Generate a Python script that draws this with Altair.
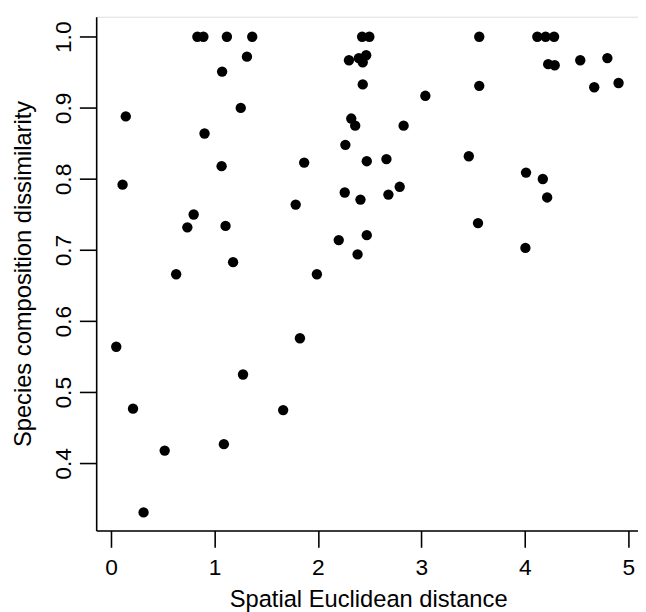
import altair as alt
import pandas as pd

distance = [0.051, 0.112, 0.143, 0.213, 0.315, 0.519, 0.63, 0.738, 0.799, 0.835,
            0.893, 0.904, 1.069, 1.074, 1.091, 1.107, 1.12, 1.18, 1.254, 1.276,
            1.314, 1.365, 1.664, 1.785, 1.826, 1.867, 1.99, 2.201, 2.259, 2.265,
            2.30, 2.322, 2.36, 2.383, 2.395, 2.411, 2.427, 2.433, 2.433, 2.466,
            2.472, 2.472, 2.497, 2.662, 2.681, 2.79, 2.828, 3.038, 3.458, 3.547,
            3.559, 3.559, 4.005, 4.011, 4.12, 4.173, 4.20, 4.215, 4.225, 4.282,
            4.288, 4.535, 4.67, 4.797, 4.905]
dissimilarity = [0.564, 0.792, 0.888, 0.477, 0.331, 0.418, 0.666, 0.732, 0.750, 1.0,
                 1.0, 0.864, 0.818, 0.951, 0.427, 0.734, 1.0, 0.683, 0.900, 0.525,
                 0.972, 1.0, 0.475, 0.764, 0.576, 0.823, 0.666, 0.714, 0.781, 0.848,
                 0.967, 0.885, 0.875, 0.694, 0.970, 0.771, 1.0, 0.964, 0.933, 0.974,
                 0.825, 0.721, 1.0, 0.828, 0.778, 0.789, 0.875, 0.917, 0.832, 0.738,
                 1.0, 0.931, 0.703, 0.809, 1.0, 0.800, 1.0, 0.774, 0.9615, 1.0,
                 0.960, 0.967, 0.929, 0.970, 0.935]
x_ticks = [0, 1, 2, 3, 4, 5]
y_ticks = [0.4, 0.5, 0.6, 0.7, 0.8, 0.9, 1.0]

df = pd.DataFrame({"distance": distance, "dissimilarity": dissimilarity})

FONT = "Liberation Sans"

x_axis = alt.Axis(
    values=x_ticks, format="d", grid=False,
    domainColor="black", domainWidth=1.6, tickColor="black", tickWidth=1.6,
    tickSize=17, labelFontSize=23, labelFont=FONT, labelColor="black",
    labelPadding=9.7, labelFlush=False, labelOverlap=False,
    title="Spatial Euclidean distance", titleFont=FONT, titleFontSize=24,
    titleFontWeight="normal", titleColor="black",
    titleX=275.4, titleY=76.5, titleAlign="center", titleBaseline="alphabetic",
)
y_axis = alt.Axis(
    values=y_ticks, format=".1f", grid=False,
    domainColor="black", domainWidth=1.6, tickColor="black", tickWidth=1.6,
    tickSize=17, labelFontSize=23, labelFont=FONT, labelColor="black",
    labelAngle=270, labelAlign="center", labelBaseline="bottom",
    labelPadding=3.8, labelFlush=False, labelOverlap=False,
    title="Species composition dissimilarity", titleFont=FONT, titleFontSize=24,
    titleFontWeight="normal", titleColor="black",
    titleAngle=270, titleX=-67, titleY=260, titleAlign="center",
    titleBaseline="alphabetic",
)

chart = (
    alt.Chart(df)
    .mark_circle(size=110, color="black", opacity=1)
    .encode(
        x=alt.X("distance:Q", scale=alt.Scale(domain=[-0.143, 5.093], nice=False, zero=False), axis=x_axis),
        y=alt.Y("dissimilarity:Q", scale=alt.Scale(domain=[0.3056, 1.0282], nice=False, zero=False), axis=y_axis),
    )
    .properties(
        width=548.7, height=520.3,
        autosize=alt.AutoSizeParams(type="none"),
        padding={"left": 89.3, "top": 5, "right": 0, "bottom": 78.7},
    )
    .configure_view(stroke=None)
    .configure(background="white")
)

chart.save("out.html", embed_options={"renderer": "svg", "actions": False})
